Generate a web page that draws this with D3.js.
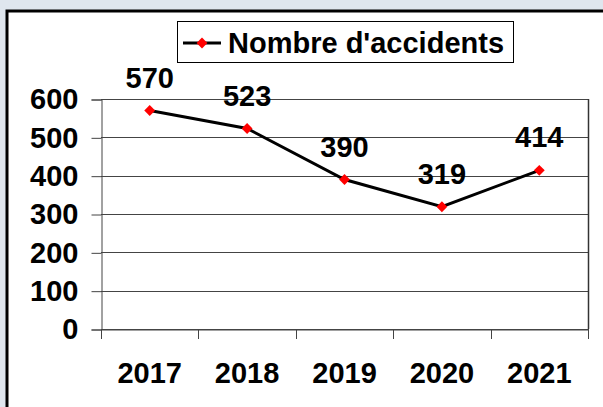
<!DOCTYPE html>
<html>
<head>
<meta charset="utf-8">
<script src="https://cdn.jsdelivr.net/npm/d3@7"></script>
<style>
  html, body { margin: 0; padding: 0; background: #dfe6ee; }
  svg { display: block; }
  text { font-family: "Liberation Sans", Arial, sans-serif; font-weight: bold; fill: #000; }
</style>
</head>
<body>
<div id="chart"></div>
<script>
/**
 * CONSTANTS AND GLOBALS
 * */
const width = 603,
  height = 407,
  margin = { top: 99, bottom: 78, left: 101, right: 15 },
  fontSize = 29;

// data
const years = ["2017", "2018", "2019", "2020", "2021"];
const accidents = [570, 523, 390, 319, 414];
const yTicks = [0, 100, 200, 300, 400, 500, 600];
const seriesName = "Nombre d'accidents";

const svg = d3.select("#chart")
  .append("svg")
  .attr("width", width)
  .attr("height", height);

// outer chart frame (runs off the right and bottom edge)
svg.append("rect")
  .attr("x", 7)
  .attr("y", 11)
  .attr("width", width)
  .attr("height", height)
  .attr("fill", "#fff")
  .attr("stroke", "#000")
  .attr("stroke-width", 3);

// + SCALES
const x = d3.scaleBand()
  .domain(years)
  .range([margin.left, width - margin.right]);

const y = d3.scaleLinear()
  .domain([0, 600])
  .range([height - margin.bottom, margin.top]);

// gridlines
svg.append("g")
  .selectAll("line")
  .data(yTicks)
  .join("line")
  .attr("x1", margin.left)
  .attr("x2", width - margin.right)
  .attr("y1", d => Math.round(y(d)) + 0.5)
  .attr("y2", d => Math.round(y(d)) + 0.5)
  .attr("stroke", "#444")
  .attr("stroke-width", 1);

// right border of plot area
svg.append("line")
  .attr("x1", width - margin.right + 0.5)
  .attr("x2", width - margin.right + 0.5)
  .attr("y1", y(600))
  .attr("y2", y(0))
  .attr("stroke", "#333")
  .attr("stroke-width", 1.5);

// + AXES
const yAxis = d3.axisLeft(y)
  .tickValues(yTicks)
  .tickSize(10)
  .tickPadding(13);

svg.append("g")
  .attr("transform", `translate(${margin.left + 0.5},0.5)`)
  .call(yAxis)
  .call(g => g.select(".domain").attr("stroke", "#444"))
  .call(g => g.selectAll(".tick line").attr("stroke", "#444"))
  .call(g => g.selectAll("text")
    .attr("font-size", fontSize)
    .attr("font-family", "Liberation Sans, Arial, sans-serif")
    .attr("font-weight", "bold")
    .attr("fill", "#000"));

const xAxis = d3.axisBottom(x)
  .tickSize(0)
  .tickPadding(33);

svg.append("g")
  .attr("transform", `translate(0,${Math.round(y(0)) + 0.5})`)
  .call(xAxis)
  .call(g => g.select(".domain").attr("stroke", "#444"))
  .call(g => g.selectAll("text")
    .attr("font-size", fontSize)
    .attr("font-family", "Liberation Sans, Arial, sans-serif")
    .attr("font-weight", "bold")
    .attr("fill", "#000"));

// tick marks at band boundaries
const bounds = years.map(d => x(d)).concat([x(years[years.length - 1]) + x.bandwidth()]);
svg.append("g")
  .selectAll("line")
  .data(bounds)
  .join("line")
  .attr("x1", d => Math.round(d) + 0.5)
  .attr("x2", d => Math.round(d) + 0.5)
  .attr("y1", y(0))
  .attr("y2", y(0) + 10)
  .attr("stroke", "#444");

// + LINE
const line = d3.line()
  .x((d, i) => x(years[i]) + x.bandwidth() / 2)
  .y(d => y(d));

svg.append("path")
  .datum(accidents)
  .attr("d", line)
  .attr("fill", "none")
  .attr("stroke", "#000")
  .attr("stroke-width", 3);

const diamond = d3.symbol().type(d3.symbolDiamond2).size(75);

svg.append("g")
  .selectAll("path")
  .data(accidents)
  .join("path")
  .attr("transform", (d, i) => `translate(${x(years[i]) + x.bandwidth() / 2},${y(d)})`)
  .attr("d", diamond)
  .attr("fill", "#ff0000");

// data labels
svg.append("g")
  .selectAll("text")
  .data(accidents)
  .join("text")
  .attr("x", (d, i) => x(years[i]) + x.bandwidth() / 2)
  .attr("y", d => y(d) - 23)
  .attr("text-anchor", "middle")
  .attr("font-size", fontSize)
  .text(d => d);

// + LEGEND
const legend = svg.append("g").attr("transform", "translate(177,21)");
legend.append("rect")
  .attr("x", 0.5)
  .attr("y", 0.5)
  .attr("width", 336)
  .attr("height", 41)
  .attr("fill", "#fff")
  .attr("stroke", "#000")
  .attr("stroke-width", 1);
legend.append("line")
  .attr("x1", 6)
  .attr("x2", 44)
  .attr("y1", 22)
  .attr("y2", 22)
  .attr("stroke", "#000")
  .attr("stroke-width", 3);
legend.append("path")
  .attr("transform", "translate(25,22)")
  .attr("d", diamond)
  .attr("fill", "#ff0000");
legend.append("text")
  .attr("x", 51)
  .attr("y", 32)
  .attr("font-size", fontSize)
  .text(seriesName);
</script>
</body>
</html>
